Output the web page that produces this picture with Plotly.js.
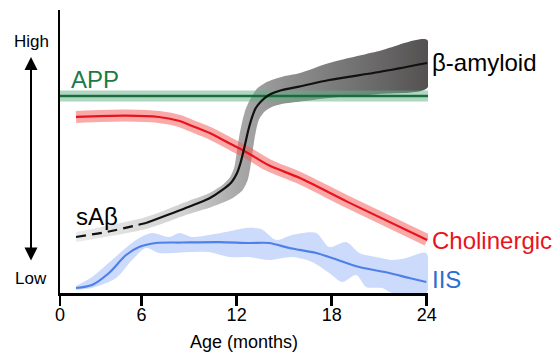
<!DOCTYPE html>
<html>
<head>
<meta charset="utf-8">
<script src="https://cdn.plot.ly/plotly-3.0.1.min.js"></script>
<style>html,body{margin:0;padding:0;background:#fff}#chart{width:556px;height:354px}</style>
</head>
<body>
<div id="chart"></div>
<script>
// ---- data (x = age in months, y = relative level 0..100) ----
const tickVals = [0.85, 6, 12, 18, 24];
const tickText = ['0', '6', '12', '18', '24'];

const appMonths = [0.85, 24.08];
const appLevel = [69.6, 69.6];

const cholMonths = [1.86, 5.0, 7.1, 8.4, 9.2, 10.3, 11.5, 12.7, 14.0, 16.0, 19.0, 24.03];
const cholLevel = [62.2, 62.7, 62.2, 60.8, 59.0, 56.5, 53.0, 49.5, 45.2, 40.6, 32.2, 18.7];

const abMonths = [1.86, 3.94, 6.28, 8.99, 10.26, 11.10, 11.70, 12.02, 12.24, 12.40, 12.57, 12.74, 12.95, 13.20, 13.52, 14.04, 14.88, 15.94, 17.84, 21.0, 24.03];
const abLevel = [19.79, 21.73, 24.73, 30.49, 33.39, 36.4, 39.33, 42.3, 45.83, 49.36, 53.46, 57.6, 61.73, 65.27, 67.6, 69.96, 71.73, 72.9, 75.27, 78.09, 81.27];
const sabCount = 3; // first points drawn dashed (soluble Aβ)

const abUpMonths = [1.86, 6.28, 8.99, 10.26, 11.10, 11.60, 11.86, 12.00, 12.16, 12.33, 12.55, 12.89, 13.31, 13.94, 14.88, 15.94, 17.84, 21.0, 24.03];
const abUpLevel = [21.55, 26.86, 32.61, 35.23, 38.16, 41.10, 44.63, 49.36, 55.23, 59.96, 64.66, 68.8, 72.33, 74.66, 76.43, 77.63, 81.27, 85.51, 89.4];
const abLoMonths = [1.86, 6.28, 8.99, 10.47, 11.73, 12.38, 12.70, 12.87, 13.02, 13.19, 13.40, 13.75, 14.25, 15.10, 15.94, 17.84, 21.0, 24.03];
const abLoLevel = [18.02, 22.61, 27.92, 30.49, 33.46, 36.4, 39.93, 44.63, 50.53, 56.43, 61.13, 64.06, 65.83, 67.03, 67.6, 68.9, 70.32, 72.44];

const iisMonths = [1.86, 2.87, 3.94, 5.02, 5.84, 6.91, 8.56, 10.9, 12.79, 14.05, 15.32, 17.02, 18.03, 19.74, 21.63, 22.9, 23.97];
const iisLevel = [1.77, 2.83, 7.07, 13.43, 16.25, 17.67, 17.84, 18.0, 17.67, 17.67, 15.9, 14.13, 12.37, 9.19, 7.07, 5.3, 3.89];
const iisUpMonths = [1.86, 2.87, 4.13, 5.65, 6.66, 7.74, 8.37, 9.19, 10.26, 11.34, 12.6, 13.55, 14.49, 15.5, 17.02, 17.84, 18.92, 19.74, 20.81, 21.82, 22.71, 23.97];
const iisUpLevel = [2.47, 5.65, 11.66, 18.73, 21.2, 19.79, 21.2, 19.79, 20.49, 21.55, 22.97, 22.61, 18.73, 20.49, 21.2, 16.25, 18.02, 14.13, 12.72, 11.66, 12.37, 14.13];
const iisLoMonths = [1.86, 2.87, 4.39, 5.40, 6.28, 7.10, 8.05, 9.0, 10.26, 11.53, 12.79, 14.05, 15.5, 16.77, 17.84, 18.66, 19.55, 20.18, 21.19, 21.82, 23.97];
const iisLoLevel = [1.06, 1.77, 5.3, 11.66, 15.9, 14.13, 14.13, 14.49, 14.49, 12.72, 12.72, 11.66, 12.72, 10.95, 7.07, 3.89, 6.36, 2.12, 1.77, 0, 0];

// ---- build polygons from the band edges ----
function poly(ux, uy, lx, ly) {
  return { x: ux.concat(lx.slice().reverse()), y: uy.concat(ly.slice().reverse()) };
}
const abBand = poly(abUpMonths, abUpLevel, abLoMonths, abLoLevel);
const iisBand = poly(iisUpMonths, iisUpLevel, iisLoMonths, iisLoLevel);

const traces = [
  { x: abBand.x, y: abBand.y, type: 'scatter', mode: 'lines', fill: 'toself',
    line: { width: 0, shape: 'spline', smoothing: 0.7, color: 'rgba(0,0,0,0)' },
    fillgradient: { type: 'horizontal',
      colorscale: [[0, '#ebebeb'], [0.3, '#d2d2d2'], [0.45, '#aaaaaa'], [0.6, '#8e8e8e'], [0.8, '#717070'], [1, '#524f4f']] },
    hoverinfo: 'skip' },
  { x: iisBand.x, y: iisBand.y, type: 'scatter', mode: 'lines', fill: 'toself',
    fillcolor: 'rgba(120,160,245,0.38)',
    line: { width: 0, shape: 'spline', smoothing: 0.8 }, hoverinfo: 'skip' },
  { x: appMonths, y: appLevel, type: 'scatter', mode: 'lines',
    line: { color: 'rgba(95,178,135,0.5)', width: 11 }, hoverinfo: 'skip' },
  { x: appMonths, y: appLevel, type: 'scatter', mode: 'lines',
    line: { color: '#1d6b3c', width: 2.5 } },
  { x: cholMonths, y: cholLevel, type: 'scatter', mode: 'lines',
    line: { color: 'rgba(245,90,90,0.52)', width: 12, shape: 'spline', smoothing: 0.8 }, hoverinfo: 'skip' },
  { x: cholMonths, y: cholLevel, type: 'scatter', mode: 'lines',
    line: { color: '#e8141c', width: 2.2, shape: 'spline', smoothing: 0.8 } },
  { x: iisMonths, y: iisLevel, type: 'scatter', mode: 'lines',
    line: { color: '#4f80ea', width: 2.2, shape: 'spline', smoothing: 0.8 } },
  { x: abMonths.slice(0, sabCount), y: abLevel.slice(0, sabCount), type: 'scatter', mode: 'lines',
    line: { color: '#111', width: 2.2, dash: '10px,6px', shape: 'spline', smoothing: 0.8 } },
  { x: abMonths.slice(sabCount - 1), y: abLevel.slice(sabCount - 1), type: 'scatter', mode: 'lines',
    line: { color: '#111', width: 2.2, shape: 'spline', smoothing: 0.8 } }
];

const labelFont = { family: 'Liberation Sans, Arial, sans-serif', size: 24 };
const layout = {
  width: 556, height: 354,
  margin: { l: 60, r: 128, t: 10, b: 61 },
  paper_bgcolor: '#fff', plot_bgcolor: '#fff',
  showlegend: false,
  font: { family: 'Liberation Sans, Arial, sans-serif', color: '#000', size: 18 },
  xaxis: {
    range: [0.85, 24.08], showgrid: false, zeroline: false,
    showline: true, linecolor: '#000', linewidth: 2.5,
    ticks: 'outside', ticklen: 10, tickwidth: 2.5, tickcolor: '#000',
    tickvals: tickVals, ticktext: tickText, tickfont: { size: 18 },
    ticklabelstandoff: -6,
    title: { text: 'Age (months)', font: { size: 18 }, standoff: 12 }
  },
  yaxis: {
    range: [0, 100], showgrid: false, zeroline: false,
    showline: true, linecolor: '#000', linewidth: 2,
    showticklabels: false, ticks: ''
  },
  annotations: [
    { xref: 'paper', yref: 'paper', x: -0.0788, y: 0.834, ax: 0, ay: 205,
      text: '', showarrow: true, arrowside: 'end+start', arrowhead: 2, startarrowhead: 2,
      arrowsize: 1.3, startarrowsize: 1.3, arrowwidth: 2, arrowcolor: '#000' },
    { xref: 'paper', yref: 'paper', x: -0.0788, y: 0.89, text: 'High', showarrow: false,
      font: { size: 17, color: '#000' }, xanchor: 'center', yanchor: 'middle' },
    { xref: 'paper', yref: 'paper', x: -0.0788, y: 0.05, text: 'Low', showarrow: false,
      font: { size: 17, color: '#000' }, xanchor: 'center', yanchor: 'middle' },
    { xref: 'x', yref: 'y', x: 1.42, y: 75.6, text: 'APP', showarrow: false,
      font: Object.assign({}, labelFont, { color: '#1e7a45' }), xanchor: 'left', yanchor: 'middle' },
    { xref: 'x', yref: 'y', x: 1.73, y: 26.9, text: 'sAβ', showarrow: false,
      font: Object.assign({}, labelFont, { color: '#000' }), xanchor: 'left', yanchor: 'middle' },
    { xref: 'paper', yref: 'y', x: 1, xshift: 2, y: 81.3, text: 'β-amyloid', showarrow: false,
      font: Object.assign({}, labelFont, { color: '#000' }), xanchor: 'left', yanchor: 'middle' },
    { xref: 'paper', yref: 'y', x: 1, xshift: 2, y: 18.7, text: 'Cholinergic', showarrow: false,
      font: Object.assign({}, labelFont, { color: '#e8141c' }), xanchor: 'left', yanchor: 'middle' },
    { xref: 'paper', yref: 'y', x: 1, xshift: 2, y: 4.6, text: 'IIS', showarrow: false,
      font: Object.assign({}, labelFont, { color: '#2a6fd0' }), xanchor: 'left', yanchor: 'middle' }
  ]
};

Plotly.newPlot('chart', traces, layout, { displayModeBar: false, staticPlot: true });
</script>
</body>
</html>
